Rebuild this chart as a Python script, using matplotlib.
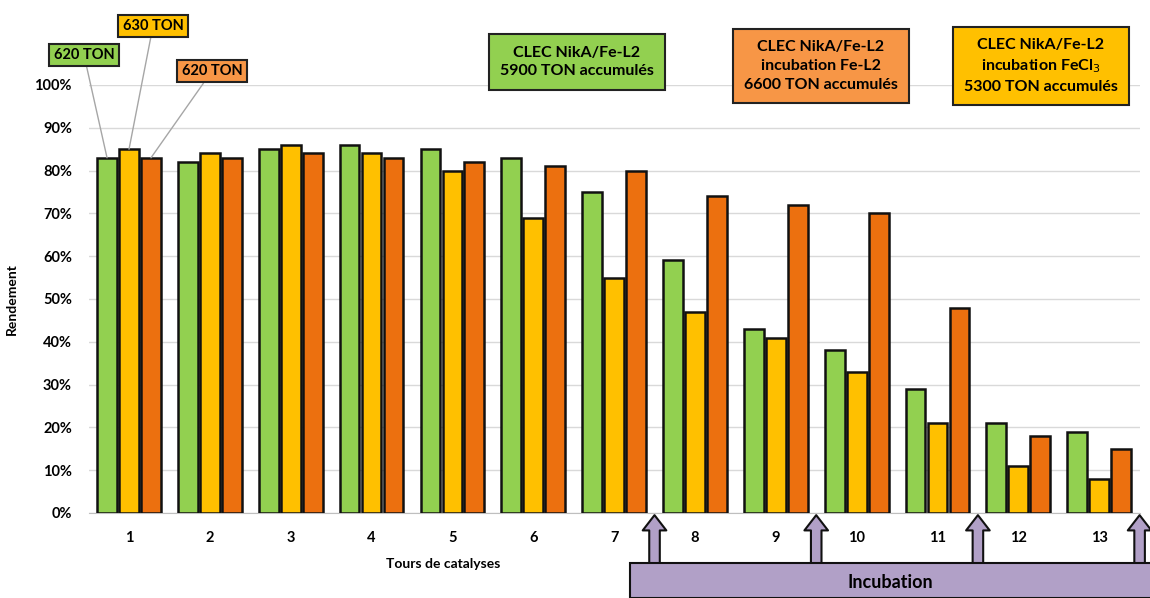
import numpy as np
import matplotlib
matplotlib.use('Agg')
import matplotlib.pyplot as plt
from matplotlib.patches import Rectangle

plt.rcParams['font.family'] = ['Lato', 'DejaVu Sans']

tours = ['1', '2', '3', '4', '5', '6', '7', '8', '9', '10', '11', '12', '13']
clec_fel2 = [83, 82, 85, 86, 85, 83, 75, 59, 43, 38, 29, 21, 19]      # vert
clec_fecl3 = [85, 84, 86, 84, 80, 69, 55, 47, 41, 33, 21, 11, 8]      # jaune
clec_incub = [83, 83, 84, 83, 82, 81, 80, 74, 72, 70, 48, 18, 15]     # orange
incubation_pos = [7.5, 9.5, 11.5, 13.5]

c_green = '#92D050'
c_yellow = '#FFC000'
c_orange = '#EC700F'
c_orange_box = '#F79646'
c_purple = '#B1A0C7'

fig = plt.figure(figsize=(11.5, 5.98), dpi=100)
ax = fig.add_axes([88.6 / 1150, 1 - 513 / 598, (1139.6 - 88.6) / 1150, (513 - 85) / 598])

x = np.arange(1, len(tours) + 1)
w = 0.245
off = 0.272
ax.bar(x - off, clec_fel2, w, color=c_green, edgecolor='#111111', linewidth=1.8, zorder=3)
ax.bar(x, clec_fecl3, w, color=c_yellow, edgecolor='#111111', linewidth=1.8, zorder=3)
ax.bar(x + off, clec_incub, w, color=c_orange, edgecolor='#111111', linewidth=1.8, zorder=3)

ax.set_xlim(0.5, 13.5)
ax.set_ylim(0, 100)
ax.set_yticks(np.arange(0, 101, 10))
ax.set_yticklabels([f'{v}%' for v in range(0, 101, 10)])
ax.set_xticks(x)
ax.set_xticklabels(tours)
ax.tick_params(axis='y', length=0, labelsize=10.5, pad=12)
ax.tick_params(axis='x', length=0, labelsize=10.5, pad=13)
for lab in ax.get_xticklabels() + ax.get_yticklabels():
    lab.set_fontweight('bold')
ax.grid(axis='y', color='#D9D9D9', linewidth=1, zorder=0)
for s in ['top', 'right', 'left']:
    ax.spines[s].set_visible(False)
ax.spines['bottom'].set_color('#BFBFBF')

ax.set_ylabel('Rendement', fontsize=10, fontweight='bold')
ax.yaxis.set_label_coords(-0.067, 0.5)
ax.set_xlabel('Tours de catalyses', fontsize=10, fontweight='bold')
ax.xaxis.set_label_coords(0.337, -0.105)

# TON labels on the first round
ton_labels = [('620 TON', x[0] - off, clec_fel2[0], c_green, (84, 55)),
              ('630 TON', x[0], clec_fecl3[0], c_yellow, (153, 26)),
              ('620 TON', x[0] + off, clec_incub[0], c_orange_box, (212, 71))]
for txt, bx, by, col, (px, py) in ton_labels:
    ax.annotate(txt, xy=(bx, by), xycoords='data',
                xytext=(px / 1150, 1 - py / 598), textcoords='figure fraction',
                ha='center', va='center', fontsize=10.5, fontweight='bold',
                bbox=dict(boxstyle='square,pad=0.3', fc=col, ec='#222222', lw=1.5),
                arrowprops=dict(arrowstyle='-', color='#A6A6A6', lw=1,
                                shrinkA=0, shrinkB=0),
                annotation_clip=False, zorder=5)

# legend boxes
boxes = [('CLEC NikA/Fe-L2\n5900 TON accumulés', 577, 62, c_green),
         ('CLEC NikA/Fe-L2\nincubation Fe-L2\n6600 TON accumulés', 821, 66, c_orange_box),
         ('CLEC NikA/Fe-L2\nincubation FeCl$_3$\n5300 TON accumulés', 1041, 66, c_yellow)]
for txt, px, py, col in boxes:
    fig.text(px / 1150, 1 - py / 598, txt, ha='center', va='center',
             fontsize=11.5, fontweight='bold', linespacing=1.45,
             bbox=dict(boxstyle='square,pad=0.7', fc=col, ec='#222222', lw=1.5))

# incubation arrows and box
for xp in incubation_pos:
    ax.annotate('', xy=(xp, -0.5), xycoords='data',
                xytext=(xp, -12.5), textcoords='data',
                arrowprops=dict(arrowstyle='simple,head_length=0.55,head_width=0.85,tail_width=0.38',
                                mutation_scale=20, fc=c_purple, ec='#111111', lw=1.5,
                                shrinkA=0, shrinkB=0),
                annotation_clip=False)
fig.patches.append(Rectangle((630 / 1150, 0), 525 / 1150, 35 / 598,
                             transform=fig.transFigure, fc=c_purple, ec='#111111',
                             lw=1.5, zorder=4))
fig.text(890 / 1150, 16 / 598, 'Incubation', ha='center', va='center',
         fontsize=13, fontweight='bold', zorder=5)

fig.savefig('out.png', dpi=100)
